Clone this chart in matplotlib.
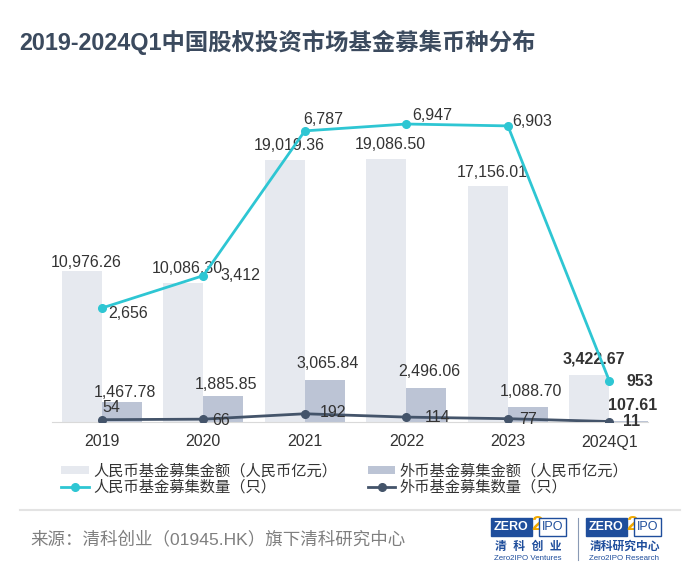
import matplotlib.pyplot as plt
import numpy as np

plt.rcParams["font.family"] = ["Liberation Sans", "Noto Sans CJK SC", "DejaVu Sans"]

years = ["2019", "2020", "2021", "2022", "2023", "2024Q1"]
rmb_amount = [10976.26, 10086.30, 19019.36, 19086.50, 17156.01, 3422.67]
fx_amount = [1467.78, 1885.85, 3065.84, 2496.06, 1088.70, 107.61]
rmb_count = [2656, 3412, 6787, 6947, 6903, 953]
fx_count = [54, 66, 192, 114, 77, 11]

C_RMB_BAR = "#e6e9ef"
C_FX_BAR = "#bcc4d5"
C_RMB_LINE = "#2ec6d3"
C_FX_LINE = "#44546a"
C_TEXT = "#333333"

W, H = 700, 585


def px(x, y):
    return x / W, 1 - y / H


fig = plt.figure(figsize=(7, 5.85), dpi=100)
ax = fig.add_axes([52 / W, 1 - 422 / H, 596 / W, 332 / H])
ax2 = ax.twinx()

x = np.arange(len(years))
bw = 0.395
ax.bar(x - bw / 2, rmb_amount, bw, color=C_RMB_BAR, label="人民币基金募集金额（人民币亿元）")
ax.bar(x + bw / 2, fx_amount, bw, color=C_FX_BAR, label="外币基金募集金额（人民币亿元）")
ax2.plot(x, rmb_count, color=C_RMB_LINE, lw=2, marker="o", ms=5.5, label="人民币基金募集数量（只）")
ax2.plot(x, fx_count, color=C_FX_LINE, lw=2, marker="o", ms=5.5, label="外币基金募集数量（只）")

ax.set_xlim(-0.49, 5.38)
ax.set_ylim(0, 24090)
ax2.set_ylim(0, 7740)

for a in (ax, ax2):
    for s in a.spines.values():
        s.set_visible(False)
    a.set_yticks([])
ax.spines["bottom"].set_visible(True)
ax.spines["bottom"].set_color("#d9d9d9")
ax.tick_params(axis="x", length=0, pad=9, labelsize=11.5, labelcolor=C_TEXT)
ax.set_xticks(x, years)

last = len(years) - 1


def weight(i):
    return "bold" if i == last else "normal"


# amount labels above bars (offset in pixels)
rmb_dy = [1, 7, 7, 7, 6, 8]
fx_dy = [2, 4, 9, 9, 8, 8]
for i in range(len(years)):
    ax.annotate(f"{rmb_amount[i]:,.2f}", (x[i] - bw / 2, rmb_amount[i]), xytext=(3, rmb_dy[i] * 0.72),
                textcoords="offset points", ha="center", va="bottom", fontsize=11.5,
                color=C_TEXT, fontweight=weight(i))
    ax.annotate(f"{fx_amount[i]:,.2f}", (x[i] + bw / 2, fx_amount[i]), xytext=(2, fx_dy[i] * 0.72),
                textcoords="offset points", ha="center", va="bottom", fontsize=11.5,
                color=C_TEXT, fontweight=weight(i))

# count labels (offsets in pixels, left aligned)
rmb_off = [(6, -5), (17, 0), (-2, 11), (6, 9), (4, 4), (17, 0)]
fx_off = [(1, 12), (9, -1), (15, 1), (18, 0), (11, -1), (14, 0)]
for i in range(len(years)):
    dx, dy = rmb_off[i]
    ax2.annotate(f"{rmb_count[i]:,}", (x[i], rmb_count[i]), xytext=(dx * 0.72, dy * 0.72),
                 textcoords="offset points", ha="left", va="center", fontsize=11.5,
                 color=C_TEXT, fontweight=weight(i))
    dx, dy = fx_off[i]
    ax2.annotate(f"{fx_count[i]:,}", (x[i], fx_count[i]), xytext=(dx * 0.72, dy * 0.72),
                 textcoords="offset points", ha="left", va="center", fontsize=11.5,
                 color=C_TEXT, fontweight=weight(i))

# legend: fills by column, so order rmb amount, rmb count, fx amount, fx count
h1, l1 = ax.get_legend_handles_labels()
h2, l2 = ax2.get_legend_handles_labels()
handles = [h1[0], h2[0], h1[1], h2[1]]
labels = [l1[0], l2[0], l1[1], l2[1]]
fig.legend(handles, labels, ncol=2, loc="upper left", bbox_to_anchor=px(55, 458), frameon=False,
           fontsize=11, handlelength=1.8, handleheight=0.45, handletextpad=0.3,
           columnspacing=2.0, labelspacing=0.1, labelcolor=C_TEXT, borderaxespad=0)

# title
fig.text(*px(19, 42), "2019-2024Q1中国股权投资市场基金募集币种分布", fontsize=16.8,
         fontweight="bold", color="#3b4a5e", va="center", ha="left")

# separator and source
fig.add_artist(plt.Line2D([20 / W, 680 / W], [1 - 510 / H] * 2, color="#e3e3e3", lw=1.5))
fig.text(*px(30, 539), "来源：清科创业（01945.HK）旗下清科研究中心", fontsize=12.6,
         color="#7f7f7f", va="center", ha="left")

# logos
BLUE = "#1f4e9c"
ORANGE = "#f2a900"


def logo(x0, cn, en):
    fig.text(*px(x0, 527), "ZERO", fontsize=9, fontweight="bold", color="white", va="center",
             ha="left", bbox=dict(boxstyle="square,pad=0.22", fc=BLUE, ec=BLUE))
    fig.text(*px(x0 + 37, 525), "2", fontsize=15, fontweight="bold", color=ORANGE, va="center",
             ha="left")
    fig.text(*px(x0 + 48, 527), "IPO", fontsize=9, color=BLUE, va="center", ha="left",
             bbox=dict(boxstyle="square,pad=0.22", fc="white", ec=BLUE, lw=1))
    fig.text(*px(x0 + 1, 547), cn, fontsize=8.5, fontweight="bold", color=BLUE, va="center",
             ha="left")
    fig.text(*px(x0, 558), en, fontsize=5.7, color=BLUE, va="center", ha="left")


logo(494, "清  科  创  业", "Zero2IPO Ventures")
logo(589, "清科研究中心", "Zero2IPO Research")
fig.add_artist(plt.Line2D([578 / W] * 2, [1 - 518 / H, 1 - 560 / H], color="#8a9ab5", lw=0.8))

fig.savefig("out.png", dpi=100, facecolor="white")
